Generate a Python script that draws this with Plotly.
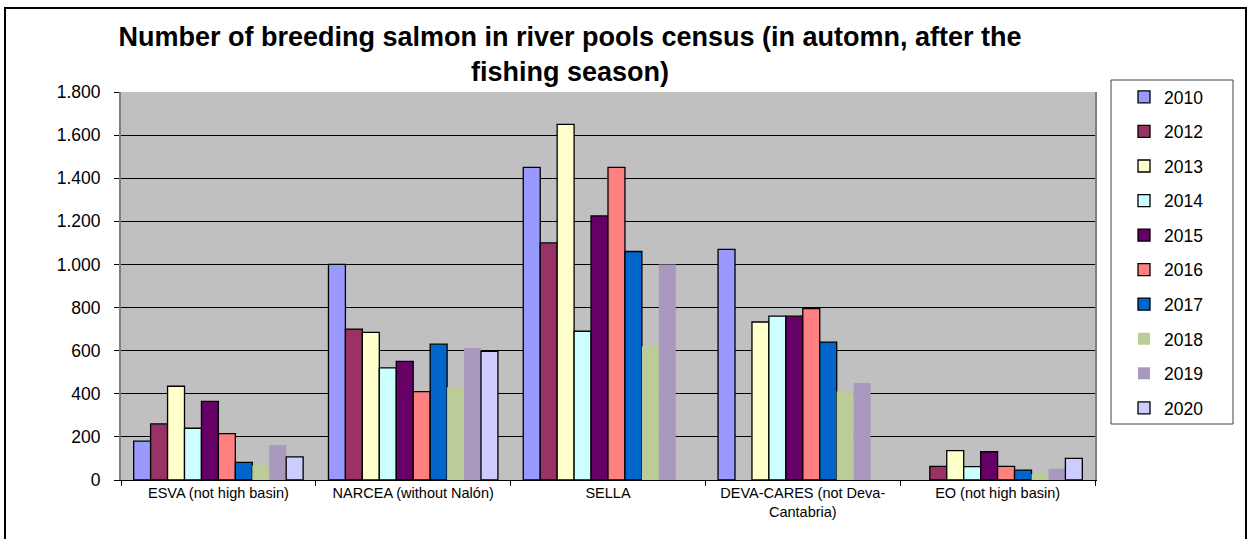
import plotly.graph_objects as go

categories = ["ESVA (not high basin)", "NARCEA (without Nalón)", "SELLA",
              "DEVA-CARES (not Deva-<br>Cantabria)", "EO (not high basin)"]
years = ["2010", "2012", "2013", "2014", "2015", "2016", "2017", "2018", "2019", "2020"]

v2010 = [180, 1000, 1450, 1070, None]
v2012 = [260, 700, 1100, None, 63]
v2013 = [435, 685, 1650, 733, 136]
v2014 = [240, 520, 690, 760, 62]
v2015 = [365, 550, 1225, 760, 131]
v2016 = [215, 410, 1450, 795, 63]
v2017 = [82, 630, 1060, 640, 46]
v2018 = [68, 430, 620, 410, 28]
v2019 = [162, 612, 1000, 450, 52]
v2020 = [107, 597, None, None, 100]

series = [v2010, v2012, v2013, v2014, v2015, v2016, v2017, v2018, v2019, v2020]
colors = ["#9999FF", "#993366", "#FFFFCC", "#CCFFFF", "#660066",
          "#FF8080", "#0066CC", "#BBCC99", "#A999BF", "#CCCCFF"]
borders = [1.3, 1.3, 1.3, 1.3, 1.3, 1.3, 1.3, 0, 0, 1.3]

FONT = "Liberation Sans, Arial, sans-serif"

fig = go.Figure()
for yr, vals, col, bw in zip(years, series, colors, borders):
    fig.add_trace(go.Bar(
        name=yr, x=categories, y=vals, legendgroup=yr,
        marker=dict(color=col, line=dict(color="black", width=bw)),
    ))

W, H = 1250, 539
L, R, T, B = 121, 155, 92, 59
pw, ph = W - L - R, H - T - B

def px(x):
    return (x - L) / pw

def py(y):
    return (H - B - y) / ph

fig.update_layout(
    width=W, height=H,
    margin=dict(l=L, r=R, t=T, b=B),
    paper_bgcolor="white", plot_bgcolor="#C0C0C0",
    barmode="group", bargap=0.13, bargroupgap=0,
    separators=",.",
    font=dict(family=FONT, color="black"),
    title=dict(
        text="Number of breeding salmon in river pools census (in automn, after the<br>fishing season)",
        font=dict(family=FONT, size=27, color="black", weight="bold"),
        x=570 / W, xanchor="center", xref="container",
        y=1 - 46 / H, yanchor="top", yref="container",
    ),
    legend=dict(
        x=px(1124), xanchor="left", y=py(79), yanchor="top",
        bgcolor="rgba(0,0,0,0)", borderwidth=0,
        font=dict(family=FONT, size=17.5, color="black"),
        tracegroupgap=8.8, itemwidth=30, maxheight=520,
    ),
    showlegend=True,
    shapes=[
        dict(type="rect", xref="paper", yref="paper",
             x0=px(5), x1=px(1246), y0=py(548), y1=py(8),
             line=dict(color="black", width=2), fillcolor="rgba(0,0,0,0)"),
        dict(type="rect", xref="paper", yref="paper",
             x0=px(1111), x1=px(1233), y0=py(424), y1=py(80),
             line=dict(color="#404040", width=1), fillcolor="rgba(0,0,0,0)"),
    ],
)

fig.update_yaxes(
    range=[0, 1800], dtick=200, separatethousands=True,
    showgrid=True, gridcolor="black", gridwidth=1,
    showline=True, linecolor="#808080", linewidth=2, mirror=True,
    ticks="outside", ticklen=5, tickcolor="black",
    tickfont=dict(family=FONT, size=17.5, color="black"),
    ticklabelstandoff=10, zeroline=False,
)
fig.update_xaxes(
    showline=True, linecolor="black", linewidth=1,
    ticks="outside", tickson="boundaries", ticklen=5, tickcolor="black",
    tickfont=dict(family=FONT, size=14.5, color="black"),
    showgrid=False,
)

fig.write_html("out.html")
